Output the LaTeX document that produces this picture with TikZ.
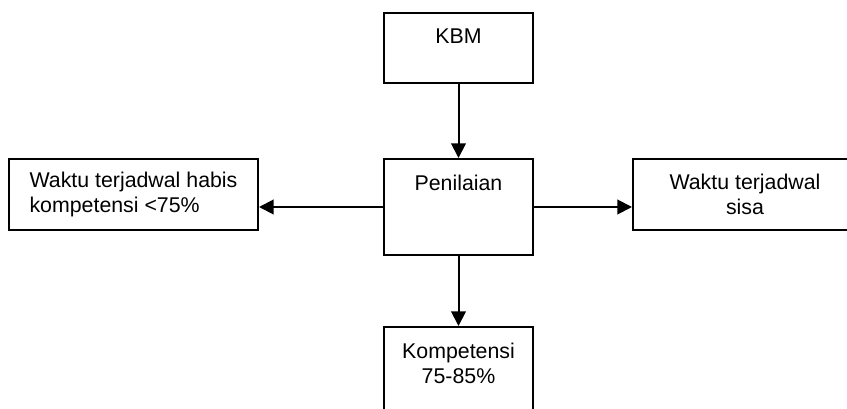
\documentclass[tikz,border=0pt]{standalone}
\usepackage{fontspec}
\setmainfont{Liberation Sans}
\usepackage{xcolor}
\usepackage{tikz}
\usetikzlibrary{positioning,arrows.meta}

\begin{document}
\begin{tikzpicture}[x=0.75pt, y=-0.75pt,
    box/.style={draw, line width=1.5pt, inner sep=0pt},
    toptext/.style={label={[anchor=north, inner sep=0pt, yshift=-12.6pt, align=center]north:#1}},
    arr/.style={-{Triangle[length=11pt, width=11pt]}, line width=1.5pt},
    font=\fontsize{16}{19}\selectfont]
\clip (0,0) rectangle (847,409);

\node[box, minimum width=111.75pt, minimum height=52.5pt, toptext={KBM}] (kbm) at (458.5,48) {};
\node[box, minimum width=111.75pt, minimum height=72pt, toptext={Penilaian}] (pen) at (458.5,207) {};
\node[box, minimum width=186.75pt, minimum height=53.25pt, align=left] (habis) at (133.5,194.5) {Waktu terjadwal habis\\kompetensi <75\%};
\node[box, minimum width=168pt, minimum height=53.25pt, align=center] (sisa) at (745,194.5) {Waktu terjadwal\\sisa};
\node[box, minimum width=111.75pt, minimum height=72pt, toptext={Kompetensi\\75-85\%}] (komp) at (458.5,375) {};

\draw[arr] (kbm) -- (pen);
\draw[arr] (pen.west) -- (pen.west -| habis.east);
\draw[arr] (pen.east) -- (pen.east -| sisa.west);
\draw[arr] (pen) -- (komp);

\end{tikzpicture}
\end{document}
